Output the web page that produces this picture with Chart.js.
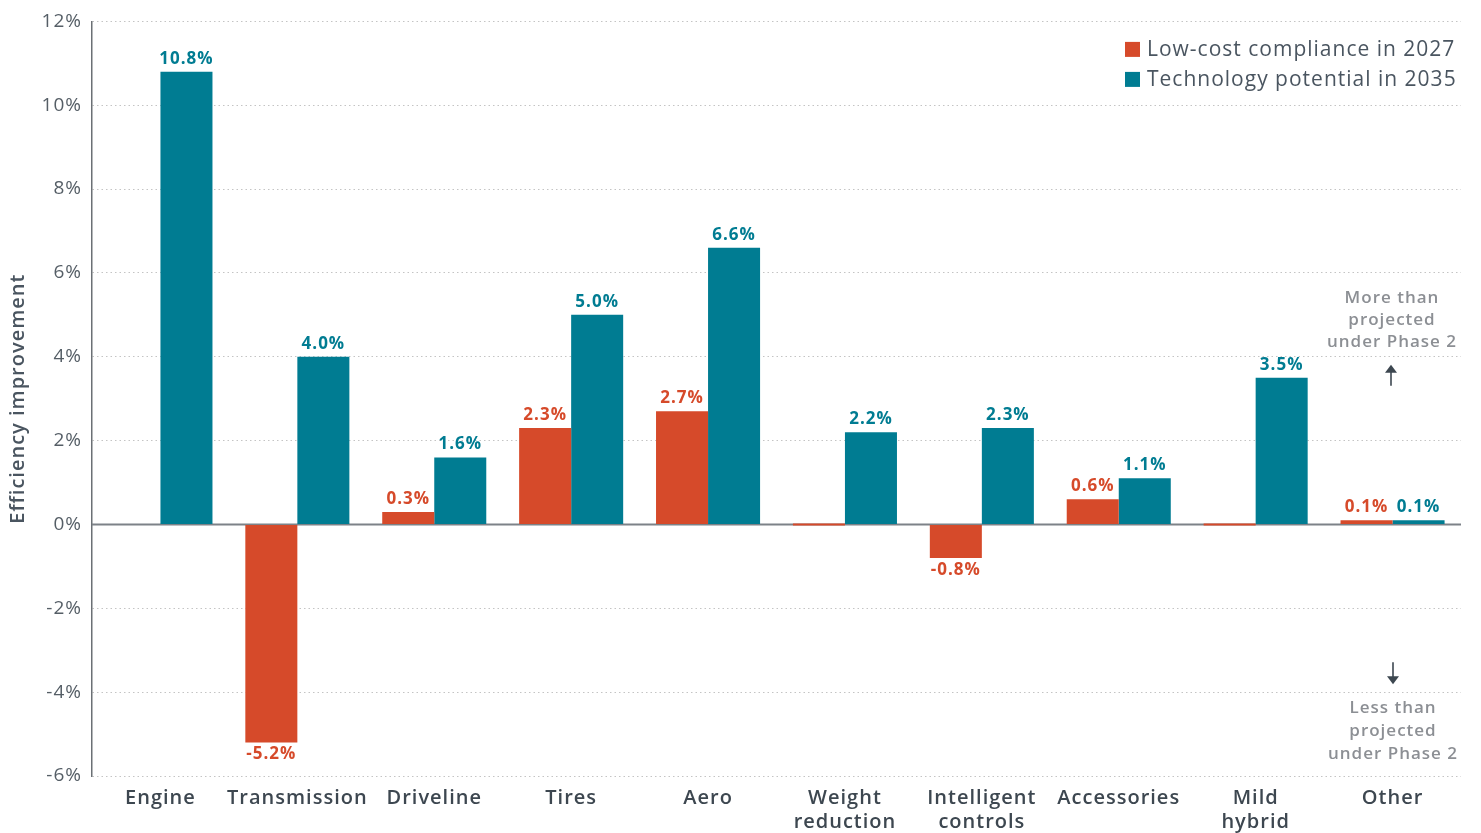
<!DOCTYPE html>
<html>
<head>
<meta charset="utf-8">
<script src="https://cdn.jsdelivr.net/npm/chart.js@4/dist/chart.umd.min.js"></script>
<style>
  html, body { margin: 0; padding: 0; background: #ffffff; }
  #wrap { width: 1481px; height: 833px; position: relative; }
</style>
</head>
<body>
<div id="wrap"><canvas id="c" width="1481" height="833"></canvas></div>
<script>
// Categories (multi-line labels as arrays)
const categories = [
  'Engine', 'Transmission', 'Driveline', 'Tires', 'Aero',
  ['Weight', 'reduction'], ['Intelligent', 'controls'], 'Accessories',
  ['Mild', 'hybrid'], 'Other'
];
// Efficiency improvement, percent
const lowCost2027 = [null, -5.2, 0.3, 2.3, 2.7, 0.0, -0.8, 0.6, 0.0, 0.1];
const techPotential2035 = [10.8, 4.0, 1.6, 5.0, 6.6, 2.2, 2.3, 1.1, 3.5, 0.1];
const seriesNames = ['Low-cost compliance in 2027', 'Technology potential in 2035'];
const yTicks = [-6, -4, -2, 0, 2, 4, 6, 8, 10, 12];

const RED = '#D64A2A';
const TEAL = '#007C92';
const FONT = '"Open Sans", "DejaVu Sans", sans-serif';

// Keep a little tracking on every piece of canvas text
const tracking = {
  id: 'tracking',
  beforeInit(chart) { chart.ctx.letterSpacing = '1px'; },
  beforeUpdate(chart) { chart.ctx.letterSpacing = '1px'; },
  beforeDraw(chart) { chart.ctx.letterSpacing = '1px'; }
};

// Value labels above/below bars
const valueLabels = {
  id: 'valueLabels',
  afterDatasetsDraw(chart) {
    const ctx = chart.ctx;
    ctx.save();
    ctx.font = `700 17px ${FONT}`;
    ctx.textAlign = 'center';
    ctx.textBaseline = 'alphabetic';
    chart.data.datasets.forEach((ds, di) => {
      const meta = chart.getDatasetMeta(di);
      ctx.fillStyle = ds.labelColor;
      meta.data.forEach((el, i) => {
        const v = ds.data[i];
        if (v === null || v === 0) return;
        const txt = v.toFixed(1) + '%';
        if (v > 0) ctx.fillText(txt, el.x, el.y - 8);
        else ctx.fillText(txt, el.x, el.y + 17);
      });
    });
    ctx.restore();
  }
};

// Solid zero line beneath the bars
const zeroLine = {
  id: 'zeroLine',
  beforeDatasetsDraw(chart) {
    const { ctx, chartArea, scales } = chart;
    const y = scales.y.getPixelForValue(0);
    ctx.save();
    ctx.strokeStyle = '#7d8288';
    ctx.lineWidth = 2;
    ctx.beginPath();
    ctx.moveTo(chartArea.left, y);
    ctx.lineTo(chartArea.right, y);
    ctx.stroke();
    ctx.restore();
  }
};

// Legend box and side notes
const decorations = {
  id: 'decorations',
  afterDraw(chart) {
    const { ctx, chartArea, scales } = chart;
    ctx.save();
    // legend
    const lx = chartArea.right - 336;
    const colors = [RED, TEAL];
    ctx.font = `400 21px ${FONT}`;
    ctx.textBaseline = 'middle';
    ctx.textAlign = 'left';
    seriesNames.forEach((name, i) => {
      const cy = chartArea.top + 28 + i * 30;
      ctx.fillStyle = colors[i];
      ctx.fillRect(lx, cy - 7.5, 15, 15);
      ctx.fillStyle = '#4a5560';
      ctx.fillText(name, lx + 22, cy + 1);
    });

    // side notes
    const nx = chartArea.right - 69;
    ctx.font = `600 17px ${FONT}`;
    ctx.fillStyle = '#8c8f94';
    ctx.textAlign = 'center';
    const y4 = scales.y.getPixelForValue(4);
    const yN4 = scales.y.getPixelForValue(-4);
    ['More than', 'projected', 'under Phase 2'].forEach((t, i) => {
      ctx.fillText(t, nx, y4 - 59 + i * 22);
    });
    ['Less than', 'projected', 'under Phase 2'].forEach((t, i) => {
      ctx.fillText(t, nx + 1, yN4 + 16 + i * 23);
    });

    // arrows
    ctx.strokeStyle = '#3d4750';
    ctx.fillStyle = '#3d4750';
    ctx.lineWidth = 1.6;
    const arrow = (x, y1, y2) => {
      const dir = Math.sign(y2 - y1);
      ctx.beginPath();
      ctx.moveTo(x, y1);
      ctx.lineTo(x, y2 - dir * 5);
      ctx.stroke();
      ctx.beginPath();
      ctx.moveTo(x, y2);
      ctx.lineTo(x - 6, y2 - dir * 8);
      ctx.lineTo(x + 6, y2 - dir * 8);
      ctx.closePath();
      ctx.fill();
    };
    arrow(nx - 1, y4 + 29, y4 + 8);
    arrow(nx + 1, yN4 - 30, yN4 - 8);
    ctx.restore();
  }
};

new Chart(document.getElementById('c'), {
  type: 'bar',
  data: {
    labels: categories,
    datasets: [
      {
        label: seriesNames[0],
        data: lowCost2027,
        backgroundColor: RED,
        labelColor: RED,
        minBarLength: 2
      },
      {
        label: seriesNames[1],
        data: techPotential2035,
        backgroundColor: TEAL,
        labelColor: TEAL
      }
    ]
  },
  options: {
    responsive: false,
    animation: false,
    events: [],
    layout: { padding: { left: 0, right: 20, top: 19, bottom: 0 } },
    datasets: { bar: { categoryPercentage: 0.76, barPercentage: 1.0 } },
    plugins: {
      legend: { display: false },
      tooltip: { enabled: false }
    },
    scales: {
      x: {
        grid: { display: false },
        border: { display: false },
        ticks: {
          color: '#3d4750',
          font: { family: FONT, size: 20, weight: '600', lineHeight: 1.2 },
          padding: 2,
          maxRotation: 0,
          autoSkip: false
        },
        afterFit(scale) { scale.height = 57; }
      },
      y: {
        min: -6,
        max: 12,
        afterBuildTicks(scale) { scale.ticks = yTicks.map(v => ({ value: v })); },
        grid: { color: '#c4c4c4', lineWidth: 1, drawTicks: false },
        border: { display: true, color: '#6b7075', width: 1.5, dash: [1.5, 3] },
        ticks: {
          color: '#555e66',
          font: { family: FONT, size: 19, weight: '400' },
          padding: 10,
          callback: v => v + '%'
        },
        title: {
          display: true,
          text: 'Efficiency improvement',
          color: '#4a5560',
          font: { family: FONT, size: 20, weight: '600' },
          padding: { top: 6, bottom: 0 }
        },
        afterFit(scale) { scale.width = 92; }
      }
    }
  },
  plugins: [tracking, zeroLine, valueLabels, decorations]
});
</script>
</body>
</html>
